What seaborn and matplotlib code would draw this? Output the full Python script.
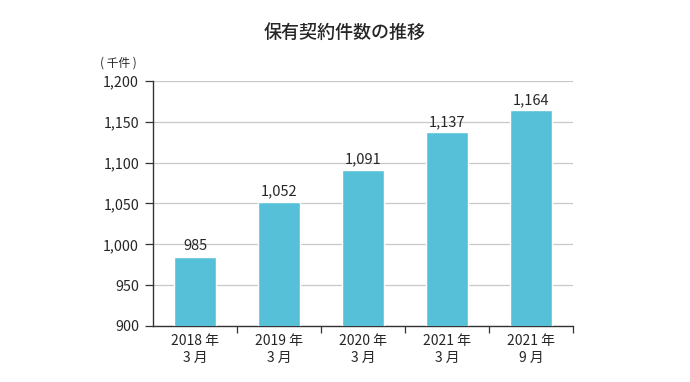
import matplotlib
matplotlib.use("Agg")
import matplotlib.pyplot as plt
import seaborn as sns
import pandas as pd

# ===================== Data =====================
categories = ["2018 年\n3 月", "2019 年\n3 月", "2020 年\n3 月", "2021 年\n3 月", "2021 年\n9 月"]
values = [985, 1052, 1091, 1137, 1164]
y_ticks = [900, 950, 1000, 1050, 1100, 1150, 1200]

df = pd.DataFrame({"period": categories, "count": values})

# ===================== Style =====================
sns.set_style("white")
plt.rcParams['font.family'] = ['Noto Sans CJK JP', 'DejaVu Sans']

fig = plt.figure(figsize=(6.9, 3.82), dpi=100)
ax = fig.add_axes([0.2217, 0.1466, 0.6087, 0.6414])

sns.barplot(data=df, x="period", y="count", color="#56c0d8", width=0.5,
            saturation=1, ax=ax, zorder=3)

ax.set_ylim(900, 1200)
ax.set_xlim(-0.5, 4.5)
ax.set_yticks(y_ticks)
ax.set_yticklabels([f"{v:,}" for v in y_ticks], fontsize=10.3)
ax.yaxis.grid(True, color="#c8c8c8", linewidth=0.9, zorder=0)
ax.set_axisbelow(True)

# bar value labels
for i, v in enumerate(values):
    ax.text(i, v + 4, f"{v:,}", ha="center", va="bottom", fontsize=10.5)

# category labels without ticks, boundary ticks between categories
ax.tick_params(axis="x", which="major", bottom=True, length=0, labelsize=10, pad=6)
ax.set_xticks([i + 0.5 for i in range(len(categories))], minor=True)
ax.tick_params(axis="x", which="minor", bottom=True, length=5, width=0.9,
               color="#333333", direction="out")
ax.tick_params(axis="y", left=True, length=6, width=0.9, color="#333333",
               direction="out", pad=4)

for s in ["top", "right"]:
    ax.spines[s].set_visible(False)
for s in ["left", "bottom"]:
    ax.spines[s].set_color("#333333")
    ax.spines[s].set_linewidth(1.0)

ax.set_xlabel("")
ax.set_ylabel("")

fig.text(0.5, 0.915, "保有契約件数の推移", ha="center", va="center",
         fontsize=13, fontweight="medium")
fig.text(0.145, 0.835, "( 千件 )", ha="left", va="center", fontsize=8.5)

fig.savefig("out.png", dpi=100)
